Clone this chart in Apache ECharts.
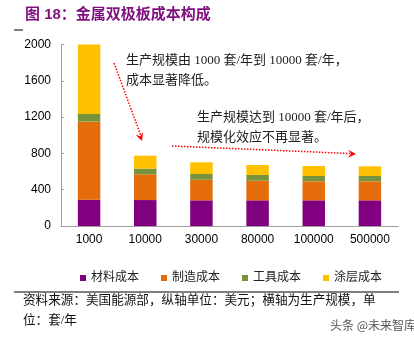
<!DOCTYPE html>
<html>
<head>
<meta charset="utf-8">
<script src="https://cdn.jsdelivr.net/npm/echarts@6/dist/echarts.min.js"></script>
<style>
html,body{margin:0;padding:0;background:#fff;}
#chart{width:414px;height:340px;}
</style>
</head>
<body>
<div id="chart"></div>
<script>
var categories = ['1000', '10000', '30000', '80000', '100000', '500000'];
var materialCost = [290, 286, 283, 283, 283, 283];
var manufactureCost = [860, 284, 227, 216, 209, 209];
var toolCost = [85, 62, 63, 63, 59, 59];
var coatingCost = [765, 143, 129, 110, 110, 107];
var seriesNames = ['材料成本', '制造成本', '工具成本', '涂层成本'];
var yTicks = [0, 400, 800, 1200, 1600, 2000];

var colors = ['#800080', '#E46C0A', '#77933C', '#FFC000'];
var serif = '"Liberation Serif", "Noto Sans CJK SC", serif';
var chart = echarts.init(document.getElementById('chart'));

function mkSeries(name, data, i) {
  return {
    name: name, type: 'bar', stack: 'total', data: data, barWidth: '40%',
    itemStyle: { color: colors[i] }
  };
}

function arrowHead(x1, y1, x2, y2) {
  var a = Math.atan2(y2 - y1, x2 - x1), L = 8, W = 4;
  var bx = x2 - L * Math.cos(a), by = y2 - L * Math.sin(a);
  var px = -Math.sin(a) * W, py = Math.cos(a) * W;
  return [[x2, y2], [bx + px, by + py], [x2 - 5 * Math.cos(a), y2 - 5 * Math.sin(a)], [bx - px, by - py]];
}

chart.setOption({
  animation: false,
  grid: { left: 61, right: 16, top: 44.5, bottom: 114 },
  legend: {
    data: seriesNames, left: 75, top: 267, icon: 'rect', itemWidth: 6, itemHeight: 6, itemGap: 22,
    textStyle: { fontFamily: serif, fontSize: 12, color: '#222' }
  },
  xAxis: {
    type: 'category', data: categories,
    axisLine: { lineStyle: { color: '#a0a0a0', width: 1 } },
    axisTick: { show: false },
    axisLabel: { color: '#000', fontSize: 12, fontFamily: '"Liberation Sans", Arial', margin: 8 }
  },
  yAxis: {
    type: 'value', min: yTicks[0], max: yTicks[yTicks.length - 1], interval: 400,
    axisLine: { show: true, lineStyle: { color: '#a0a0a0', width: 1 } },
    axisTick: { show: true, inside: true, length: 3, lineStyle: { color: '#a0a0a0' } },
    splitLine: { show: false },
    axisLabel: { color: '#000', fontSize: 12, fontFamily: '"Liberation Sans", Arial', margin: 10,
      formatter: function (v) { return String(v); } }
  },
  series: [
    mkSeries(seriesNames[0], materialCost, 0),
    mkSeries(seriesNames[1], manufactureCost, 1),
    mkSeries(seriesNames[2], toolCost, 2),
    mkSeries(seriesNames[3], coatingCost, 3)
  ],
  graphic: [
    { type: 'text', left: 25, top: 7, style: { text: '图 18：金属双极板成本构成', fill: '#7F0F7E', font: 'bold 15px "Liberation Sans", "Noto Sans CJK SC"' } },
    { type: 'line', shape: { x1: 14, y1: 30, x2: 23, y2: 30 }, style: { stroke: '#000', lineWidth: 1 } },
    { type: 'text', left: 126, top: 54, style: { text: '生产规模由 1000 套/年到 10000 套/年，', fill: '#222', font: '13px ' + serif } },
    { type: 'text', left: 126, top: 74, style: { text: '成本显著降低。', fill: '#222', font: '13px ' + serif } },
    { type: 'text', left: 197, top: 111, style: { text: '生产规模达到 10000 套/年后，', fill: '#222', font: '13px ' + serif } },
    { type: 'text', left: 197, top: 131, style: { text: '规模化效应不再显著。', fill: '#222', font: '13px ' + serif } },
    { type: 'line', shape: { x1: 114, y1: 63, x2: 141, y2: 136 }, style: { stroke: '#FF0000', lineWidth: 1.5, lineDash: [1.5, 1.5] } },
    { type: 'polygon', shape: { points: arrowHead(114, 63, 142, 141) }, style: { fill: '#FF0000' } },
    { type: 'line', shape: { x1: 172, y1: 146, x2: 350, y2: 153.5 }, style: { stroke: '#FF0000', lineWidth: 1.5, lineDash: [1.5, 1.5] } },
    { type: 'polygon', shape: { points: arrowHead(172, 146, 356, 154) }, style: { fill: '#FF0000' } },
    { type: 'line', shape: { x1: 14, y1: 292, x2: 399, y2: 292 }, style: { stroke: '#000', lineWidth: 1 } },
    { type: 'text', left: 23, top: 294, style: { text: '资料来源：美国能源部，纵轴单位：美元；横轴为生产规模，单', fill: '#111', font: '12.6px ' + serif } },
    { type: 'text', left: 23, top: 314, style: { text: '位：套/年', fill: '#111', font: '12.6px ' + serif } },
    { type: 'text', left: 330, top: 319, style: { text: '头条 @未来智库', fill: '#555', font: '12px "Noto Sans CJK SC"' } }
  ]
});
</script>
</body>
</html>
